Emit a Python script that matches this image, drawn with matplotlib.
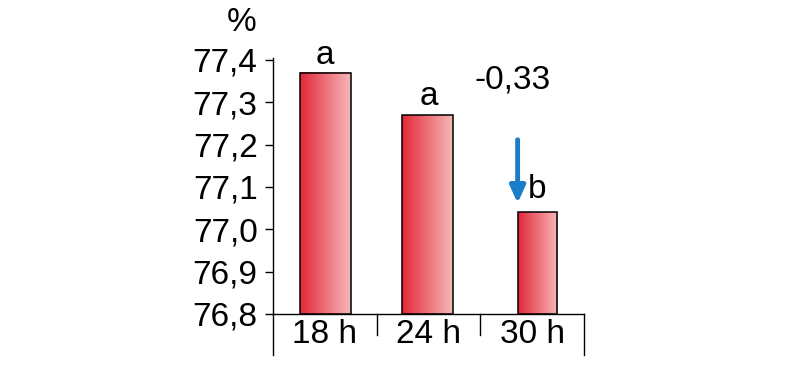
import matplotlib.pyplot as plt
import numpy as np
from matplotlib.colors import LinearSegmentedColormap

plt.rcParams['font.family'] = ['Liberation Sans', 'DejaVu Sans']

categories = ['18 h', '24 h', '30 h']
values = [77.37, 77.27, 77.04]
letters = ['a', 'a', 'b']
yticks = [76.8, 76.9, 77.0, 77.1, 77.2, 77.3, 77.4]
ytick_labels = ['76,8', '76,9', '77,0', '77,1', '77,2', '77,3', '77,4']
diff_label = '-0,33'

# bar placement inside each category slot (slot width = 1)
bar_left = [0.26, 1.25, 2.36]
bar_width = [0.49, 0.49, 0.38]

fs = 24

fig = plt.figure(figsize=(8, 3.68), dpi=100)
ax = fig.add_axes([0.341, 0.147, 0.389, 0.690])
ymin, ymax = 76.8, 77.4
ax.set_xlim(0, 3)
ax.set_ylim(ymin, ymax)

cmap = LinearSegmentedColormap.from_list('bar', ['#e3283a', '#f6b8b8'])
grad = np.linspace(0, 1, 256).reshape(1, -1)
for i, v in enumerate(values):
    x0 = bar_left[i]
    x1 = x0 + bar_width[i]
    ax.imshow(grad, extent=[x0, x1, ymin, v], aspect='auto', cmap=cmap,
              zorder=2, interpolation='bilinear')
    ax.add_patch(plt.Rectangle((x0, ymin), bar_width[i], v - ymin,
                               fill=False, edgecolor='black', lw=1.1, zorder=3))

# letters above bars
ax.text(0.505, 77.41, letters[0], ha='center', va='center', fontsize=fs, clip_on=False)
ax.text(1.5, 77.313, letters[1], ha='center', va='center', fontsize=fs)
ax.text(2.55, 77.093, letters[2], ha='center', va='center', fontsize=fs)

# difference annotation
ax.text(2.31, 77.353, diff_label, ha='center', va='center', fontsize=fs)
ax.annotate('', xy=(2.36, 77.055), xytext=(2.36, 77.218),
            arrowprops=dict(arrowstyle='-|>,head_width=0.45,head_length=1.0',
                            color='#1a7dc8', lw=3.5))

ax.set_yticks(yticks)
ax.set_yticklabels(ytick_labels, fontsize=fs)
ax.set_xticks([])
ax.tick_params(axis='y', direction='out', length=6, width=1, pad=5)
for s in ['top', 'right']:
    ax.spines[s].set_visible(False)
ax.spines['left'].set_linewidth(1)
ax.spines['bottom'].set_linewidth(1)
ax.spines['left'].set_bounds(ymin, 77.405)

# category labels and separators below the axis
trans = ax.get_xaxis_transform()
for i, c in enumerate(categories):
    ax.text(i + 0.5, -0.08, c, transform=trans, ha='center', va='center', fontsize=fs)
for x, d in [(0, -0.16), (1, -0.085), (2, -0.085), (3, -0.16)]:
    ax.plot([x, x], [0, d], transform=trans, color='black', lw=1, clip_on=False)

fig.text(0.302, 0.94, '%', ha='center', va='center', fontsize=fs)

fig.savefig('out.png', dpi=100)
